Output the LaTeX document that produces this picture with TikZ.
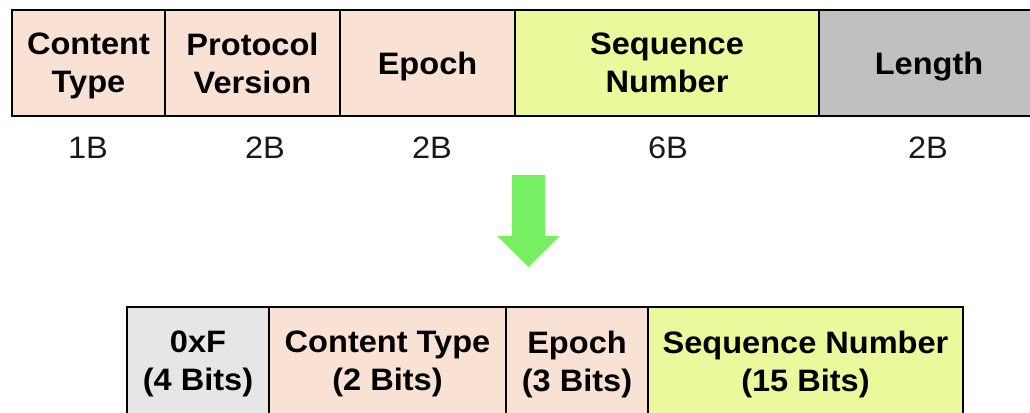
\documentclass[tikz,border=0pt]{standalone}
\usepackage{fontspec}
\setmainfont[FakeStretch=1.05]{Liberation Sans}
\definecolor{peach}{HTML}{F9E2D3}
\definecolor{seqgreen}{HTML}{EBF89C}
\definecolor{lengray}{HTML}{C0C0C0}
\definecolor{hexgray}{HTML}{E6E6E6}
\definecolor{arrowgreen}{HTML}{76F062}
\begin{document}
\begin{tikzpicture}[x=1pt,y=-1pt,
  cell/.style={draw=black, line width=2.6pt, inner sep=0pt, outer sep=0pt, align=center,
    text depth=0pt, font=\fontsize{31}{38}\selectfont\bfseries},
  size/.style={inner sep=0pt, text depth=0pt, font=\fontsize{31}{38}\selectfont, text=black!90}]
\useasboundingbox (0,0) rectangle (1030,412);
\begin{scope}
\clip (0,0) rectangle (1030,412);
% top row
\node[cell, fill=peach, minimum width=153pt, minimum height=106pt] (ct) at (88.5,63) {Content\\Type};
\node[cell, fill=peach, minimum width=175pt, minimum height=106pt] (pv) at (252.5,63) {Protocol\\Version};
\node[cell, fill=peach, minimum width=175pt, minimum height=106pt] (ep) at (427.5,63) {Epoch};
\node[cell, fill=seqgreen, minimum width=304pt, minimum height=106pt] (sn) at (667,63) {Sequence\\Number};
\node[cell, fill=lengray, minimum width=220pt, minimum height=106pt] (ln) at (929,63) {Length};
% sizes
\node[size] (s1) at (88,148) {1B};
\node[size] (s2) at (265,148) {2B};
\node[size] (s3) at (432,148) {2B};
\node[size] (s4) at (668,148) {6B};
\node[size] (s5) at (928,148) {2B};
% arrow
\fill[arrowgreen] (512,175) -- (545,175) -- (545,236) -- (560,236) -- (528.5,267) -- (497,236) -- (512,236) -- cycle;
% bottom row
\node[cell, fill=hexgray, minimum width=142pt, minimum height=108pt] (hx) at (198,361) {0xF\\(4 Bits)};
\node[cell, fill=peach, minimum width=237pt, minimum height=108pt] (bct) at (387.5,361) {Content Type\\(2 Bits)};
\node[cell, fill=peach, minimum width=142pt, minimum height=108pt] (bep) at (577,361) {Epoch\\(3 Bits)};
\node[cell, fill=seqgreen, minimum width=315pt, minimum height=108pt] (bsn) at (805.5,361) {Sequence Number\\(15 Bits)};
\end{scope}
\end{tikzpicture}
\end{document}
